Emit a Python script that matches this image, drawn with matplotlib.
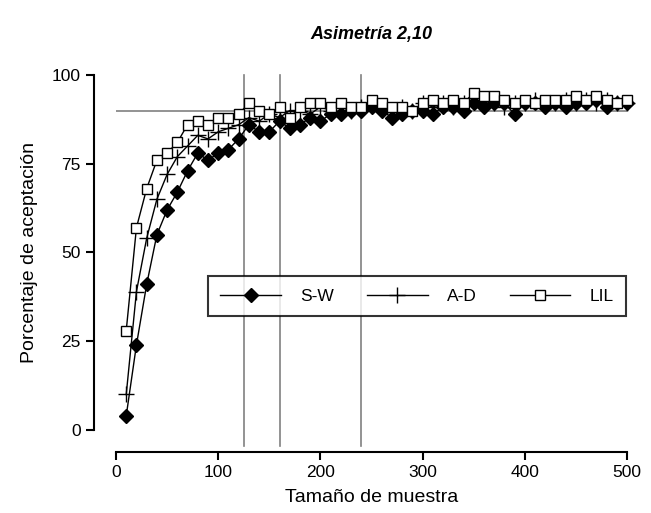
import numpy as np
import matplotlib.pyplot as plt

plt.rcParams['font.family'] = ['Liberation Sans', 'DejaVu Sans']

n = np.arange(10, 510, 10)  # tamaño de muestra

sw = [4, 24, 41, 55, 62, 67, 73, 78, 76, 78, 79, 82, 86, 84, 84, 87, 85, 86, 88, 87,
      89, 89, 90, 90, 91, 90, 88, 89, 90, 90, 89, 91, 91, 90, 92, 91, 92, 92, 89, 92,
      92, 91, 92, 91, 92, 92, 93, 91, 92, 92]
ad = [10, 39, 54, 65, 72, 77, 80, 83, 82, 84, 85, 86, 88, 87, 89, 88, 90, 90, 89, 91,
      90, 91, 90, 91, 92, 91, 90, 91, 90, 92, 91, 92, 91, 92, 93, 92, 92, 91, 92, 92,
      93, 92, 92, 93, 92, 93, 92, 93, 92, 92]
lil = [28, 57, 68, 76, 78, 81, 86, 87, 86, 88, 88, 89, 92, 90, 89, 91, 88, 91, 92, 92,
       91, 92, 91, 91, 93, 92, 91, 91, 90, 92, 93, 92, 93, 92, 95, 94, 94, 93, 92, 93,
       92, 93, 93, 93, 94, 93, 94, 93, 92, 93]

vlines = [125, 160, 240]
hline = 90

fig = plt.figure(figsize=(6.51, 5.13), dpi=100)
ax = fig.add_axes([0.1782, 0.1618, 0.785, 0.692])

# lineas de referencia
ax.axhline(hline, color='#808080', lw=1.2, zorder=1)
for v in vlines:
    ax.axvline(v, ymin=-0.045, color='#808080', lw=1.2, zorder=1, clip_on=False)

ax.plot(n, sw, color='black', lw=1, marker='D', ms=7.5, mfc='black', mec='black',
        label='S-W', clip_on=False, zorder=3)
ax.plot(n, ad, color='black', lw=1, marker='+', ms=12, mew=1, label='A-D',
        clip_on=False, zorder=4)
ax.plot(n, lil, color='black', lw=1, marker='s', ms=6.5, mfc='white', mec='black',
        mew=1, label='LIL', clip_on=False, zorder=5)

ax.set_xlim(0, 500)
ax.set_ylim(0, 100)
ax.set_xticks([0, 100, 200, 300, 400, 500])
ax.set_yticks([0, 25, 50, 75, 100])

for s in ['top', 'right']:
    ax.spines[s].set_visible(False)
for s in ['left', 'bottom']:
    ax.spines[s].set_position(('outward', 16))
    ax.spines[s].set_linewidth(1.5)
ax.tick_params(width=1.5, length=6, labelsize=12.5, direction='out')

ax.set_xlabel('Tamaño de muestra', fontsize=14, labelpad=6)
ax.set_ylabel('Porcentaje de aceptación', fontsize=14, labelpad=10)
ax.set_title('Asimetría 2,10', fontsize=13, fontweight='bold', style='italic', pad=26)

leg = ax.legend(loc='center', bbox_to_anchor=(0.589, 0.377), ncol=3, frameon=True,
                fancybox=False, edgecolor='black', fontsize=12.5, handlelength=3.5,
                columnspacing=1.9, borderpad=0.7, handletextpad=1.1)
leg.get_frame().set_linewidth(1.5)

fig.savefig('out.png', dpi=100)
